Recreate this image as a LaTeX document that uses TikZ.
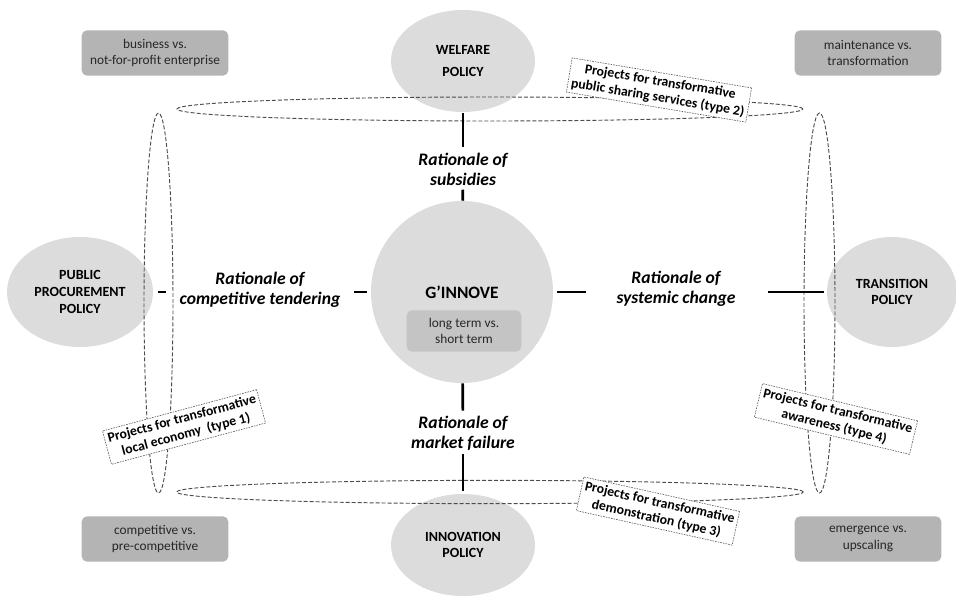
\documentclass[tikz,border=0pt]{standalone}
\usepackage{fontspec}
\setmainfont{Carlito}
\usetikzlibrary{shapes, calc, positioning}
\definecolor{policygray}{RGB}{220,220,220}
\definecolor{boxgray}{RGB}{180,180,180}
\definecolor{innergray}{RGB}{196,196,196}

\begin{document}
\begin{tikzpicture}[x=0.75pt, y=-0.75pt, font=\fontsize{10}{12.5}\selectfont,
    policy/.style={ellipse, fill=policygray, align=center, inner sep=0pt,
      font=\fontsize{10.5}{12.5}\selectfont\bfseries},
    contrastbox/.style={rounded corners=4pt, fill=boxgray, text=black!85, align=center,
      minimum width=110pt, minimum height=34pt, inner sep=1pt},
    ring/.style={ellipse, draw=black!70, line width=0.7pt, dash pattern=on 3pt off 1.5pt, inner sep=0pt},
    project/.style={draw=black!65, fill=white, line width=0.45pt, dash pattern=on 1.2pt off 0.8pt,
      align=center, font=\fontsize{10.3}{12}\selectfont\bfseries, inner sep=2.5pt},
    rationale/.style={align=center, font=\fontsize{13.2}{15}\selectfont\bfseries\itshape, inner sep=0pt},
    tick/.style={line width=2pt}]
    \useasboundingbox (0,0) rectangle (956,596);

    \node[policy, minimum width=108pt, minimum height=76.5pt] (welfare) at (463,61) {WELFARE\\[4pt]POLICY};
    \node[policy, minimum width=109.5pt, minimum height=82.5pt] (procure) at (80,292) {PUBLIC\\PROCUREMENT\\POLICY};
    \node[policy, minimum width=97.5pt, minimum height=82.5pt] (transition) at (892,292) {TRANSITION\\POLICY};
    \node[policy, minimum width=108pt, minimum height=76.5pt] (innovation) at (463,545) {INNOVATION\\POLICY};

    \node[circle, fill=policygray, minimum size=136.5pt, inner sep=0pt, font=\fontsize{13}{15}\selectfont\bfseries] (ginnove) at (462,292) {G’INNOVE};
    \node[contrastbox, fill=innergray, minimum width=86pt, minimum height=31pt] (horizon) at (464,331) {long term vs.\\short term};

    \foreach \x/\y/\name/\txt in {155/53/bizbox/{business vs.\\not-for-profit enterprise},
                                  868/53/maintbox/{maintenance vs.\\transformation},
                                  155/539/compbox/{competitive vs.\\pre-competitive},
                                  868/539/emergebox/{emergence vs.\\upscaling}} {
      \node[contrastbox] (\name) at (\x,\y) {\txt};
    };

    \node[ring, minimum width=469.5pt, minimum height=18pt] (topring) at (490,109) {};
    \node[ring, minimum width=470pt, minimum height=17.5pt] (bottomring) at (490,492) {};
    \node[ring, minimum width=21.75pt, minimum height=285pt] (leftring) at (158.5,303) {};
    \node[ring, minimum width=23.25pt, minimum height=285pt] (rightring) at (819.5,303) {};

    \node[rationale] (subsidies) at (463,169) {Rationale of\\subsidies};
    \node[rationale] (marketfail) at (463,433) {Rationale of\\market failure};
    \node[rationale] (tendering) at (260,290) {Rationale of\\competitive tendering};
    \node[rationale] (systemic) at (676,289) {Rationale of\\systemic change};

    \draw[tick, shorten <=0.75pt, shorten >=3.75pt] (welfare) -- (subsidies);
    \draw[tick, shorten <=3pt] (subsidies) -- (ginnove);
    \draw[tick, shorten >=3.75pt] (ginnove) -- (marketfail);
    \draw[tick, shorten <=3pt, shorten >=2pt] (marketfail) -- (innovation);
    \draw[tick, shorten <=3.75pt, shorten >=10pt] (procure.east) -- (procure.east -| tendering.west);
    \draw[tick, shorten <=10pt, shorten >=3pt] (ginnove.west -| tendering.east) -- (ginnove.west);
    \draw[tick, shorten <=3pt, shorten >=23pt] (ginnove.east) -- (ginnove.east -| systemic.west);
    \draw[tick, shorten <=24pt, shorten >=2.25pt] (transition.west -| systemic.east) -- (transition.west);

    \node[project, rotate=15] (type1) at (184,427) {Projects for transformative\\local economy~~(type 1)};
    \node[project, rotate=-9.5] (type2) at (659,90) {Projects for transformative\\public sharing services (type 2)};
    \node[project, rotate=-12.5] (type3) at (658,511) {Projects for transformative\\demonstration (type 3)};
    \node[project, rotate=-13.5] (type4) at (836,419) {Projects for transformative\\awareness (type 4)};
\end{tikzpicture}
\end{document}
